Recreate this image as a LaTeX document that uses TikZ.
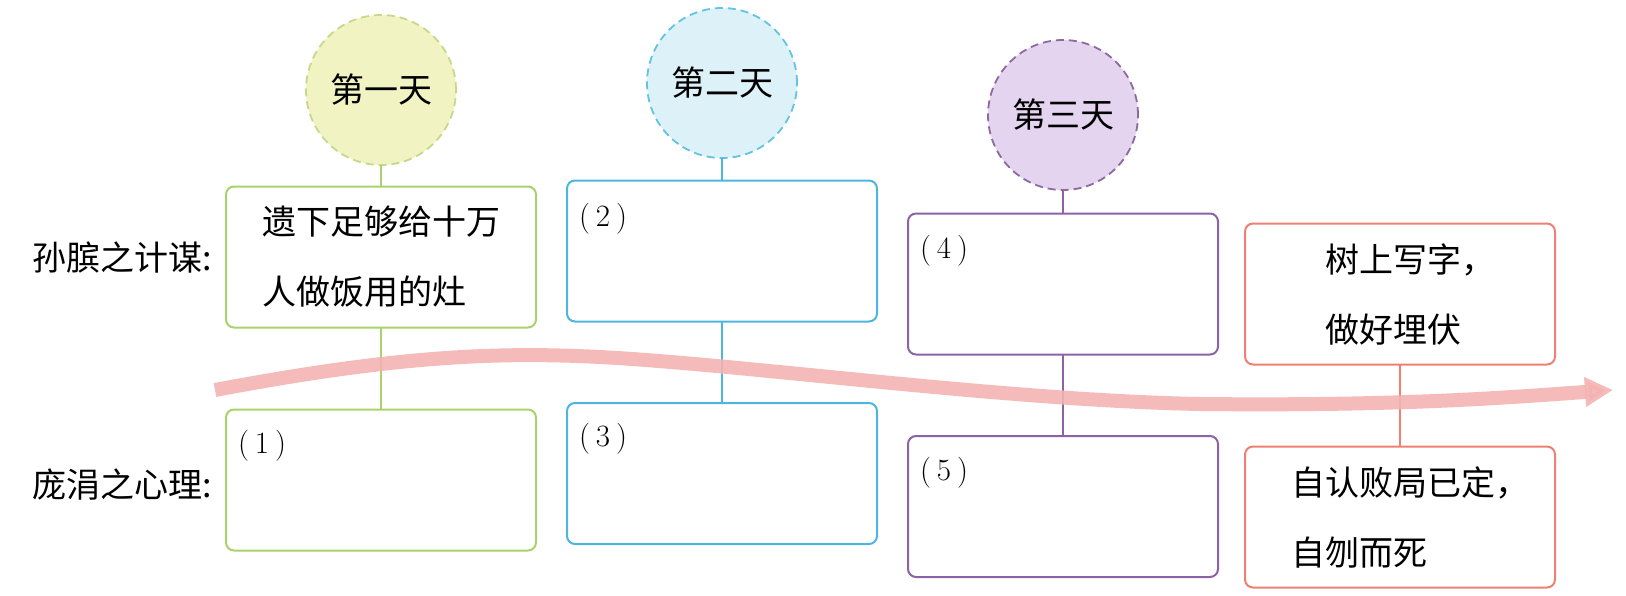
\documentclass[tikz,border=0pt]{standalone}
\usepackage{fontspec}
\newfontfamily\cjk{Noto Sans CJK SC}
\usetikzlibrary{positioning,arrows.meta}
\definecolor{onering}{HTML}{C4D98A}
\definecolor{onefill}{HTML}{F1F4C2}
\definecolor{oneline}{HTML}{A9D16C}
\definecolor{tworing}{HTML}{62C3E2}
\definecolor{twofill}{HTML}{DDF2F8}
\definecolor{twoline}{HTML}{4DB6DE}
\definecolor{threering}{HTML}{8C6A9F}
\definecolor{threefill}{HTML}{E4D4EF}
\definecolor{threeline}{HTML}{8C62A6}
\definecolor{fourline}{HTML}{EE7F72}
\definecolor{trendpink}{HTML}{F4B2B2}
\tikzstyle{daycircle}=[circle,draw,dash pattern=on 4pt off 2.5pt,line width=0.9pt,minimum size=75pt]
\tikzstyle{planbox}=[rectangle,draw,rounded corners=4pt,line width=1pt,minimum width=155pt,minimum height=70.5pt,align=left]
\tikzstyle{numlabel}=[font=\rmfamily\fontsize{15.5}{17}\selectfont,anchor=west]
\tikzstyle{every node}=[font=\cjk\fontsize{17}{35}\selectfont,inner sep=0,outer sep=0]
\newcommand{\dayring}[5]{\node[daycircle,draw=#3,fill=#4] (#1) at (#2) {#5};}
\newcommand{\boxnode}[4]{\node[planbox,draw=#3] (#1) at (#2) {#4};}

\begin{document}
\begin{tikzpicture}[x=0.5pt,y=-0.5pt]
\useasboundingbox (0,0) rectangle (1626,595);

\node[anchor=east] (plan) at (212,257) {孙膑之计谋:};
\node[anchor=east] (mind) at (212,484) {庞涓之心理:};

\dayring{c1}{381,90}{onering}{onefill}{第一天}
\dayring{c2}{722,83}{tworing}{twofill}{第二天}
\dayring{c3}{1063,115}{threering}{threefill}{第三天}

\boxnode{b1t}{381,257}{oneline}{遗下足够给十万\\人做饭用的灶}
\boxnode{b1b}{381,480}{oneline}{}
\boxnode{b2t}{722,251}{twoline}{}
\boxnode{b2b}{722,473.5}{twoline}{}
\boxnode{b3t}{1063,284}{threeline}{}
\boxnode{b3b}{1063,506.5}{threeline}{}
\boxnode{b4t}{1400,294}{fourline}{\hspace*{10pt}树上写字，\\\hspace*{10pt}做好埋伏}
\boxnode{b4b}{1400,517}{fourline}{\hspace*{10pt}自认败局已定，\\\hspace*{10pt}自刎而死}

\node[numlabel] (n1) at ([xshift=6pt,yshift=-18pt]b1b.north west) {(\kern3pt1\kern3pt)};
\node[numlabel] (n2) at ([xshift=6pt,yshift=-19pt]b2t.north west) {(\kern3pt2\kern3pt)};
\node[numlabel] (n3) at ([xshift=6pt,yshift=-18pt]b2b.north west) {(\kern3pt3\kern3pt)};
\node[numlabel] (n4) at ([xshift=6pt,yshift=-18.5pt]b3t.north west) {(\kern3pt4\kern3pt)};
\node[numlabel] (n5) at ([xshift=6pt,yshift=-18.5pt]b3b.north west) {(\kern3pt5\kern3pt)};

\draw (c1) edge [oneline, line width=0.8pt] (b1t) (b1t) edge [oneline, line width=0.8pt] (b1b);
\draw (c2) edge [twoline, line width=0.8pt] (b2t) (b2t) edge [twoline, line width=0.8pt] (b2b);
\draw (c3) edge [threeline, line width=0.8pt] (b3t) (b3t) edge [threeline, line width=0.8pt] (b3b);
\draw (b4t) edge [fourline, line width=0.8pt] (b4b);

% time line
\coordinate (start) at (215,390);
\coordinate (tip) at (1613,390);
\draw[trendpink, opacity=0.9, line width=7pt, -{Triangle[width=14pt,length=14pt]}]
  (start) .. controls (400,355) and (500,352) .. (600,357)
  .. controls (750,365) and (1000,400) .. (1200,404)
  .. controls (1400,406) and (1500,398) .. (tip);
\end{tikzpicture}
\end{document}
